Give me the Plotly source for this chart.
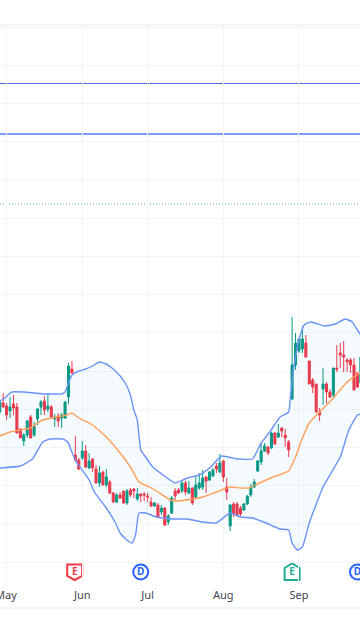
import plotly.graph_objects as go

session = list(range(106))
open_ = [188,197,194,189,196,193,171,159,165,183,165,181,193,199,191,193,181,184,182,182,203,231,145,140,142,149,132,141,131,117,128,115,118,107,98,105,109,97,110,111,101,106,106,104,98,94,95,88,92,78,87,109,110,109,117,107,112,103,112,113,123,120,124,134,128,139,113,74,96,96,92,90,96,105,113,129,138,149,153,152,167,163,172,165,158,201,235,249,251,257,239,220,216,188,211,216,208,205,232,247,245,240,240,235,227,217]
high = [200,207,197,203,205,197,172,167,180,185,178,192,200,204,206,195,186,187,187,199,237,239,164,142,159,155,147,142,135,134,129,131,120,108,107,108,109,111,112,112,112,107,108,107,103,98,97,95,93,86,104,112,112,119,119,119,113,123,127,130,124,129,132,137,146,140,122,96,98,98,94,97,105,116,121,140,156,157,154,168,168,176,173,171,160,283,267,261,274,265,239,222,216,192,232,218,211,232,255,257,259,242,242,242,227,243]
low = [186,192.5,180,182,185,167,162,154,162,162,163,175,185,185,188,183,173,173,172,181,196,227,138,130,140,132,131,128,117,113,115,113,106,97,97,101,96,95,103,102,99,98,99,98,93,93,82,85,74,75,86,100,106,107,105,106,95,101,110,110,107,119,123,127,127,118,100,69,83,83,84,89,95,103,112,128,135,148,145,151,155,162,163,153,143,200,230,247,247,242,216,207,188,179,195,197,202,201,228,232,228,228,227,210,212,217]
close = [198,193,185,193,192,167,162,165,179,162,174,191,198,190,194,183,183,179,185,198,234,227,140,131,149,133,139,132,117,127,115,123,107,98,105,102,97,109,105,109,106,104,105,103,94,97,83,92,75,84,102,104,107,117,108,112,97,115,117,122,119,128,130,131,137,123,108,95,86,85,86,96,104,113,118,139,149,154,147,167,156,167,169,162,150,235,257,261,261,243,216,213,188,185,216,208,203,232,231,245,243,238,235,210,213,243]

upper_session = [0,1.5,3.5,7,10,13,16,18,19,20,21,23,25,27,29,31,33,35,36.5,38,39,40,41,42,44.5,47.5,51,54.5,58,61,64.5,69,70,73.5,76,78.5,81.5,84,84.5,85.5,87,88.5,90.5,94.5,97.5,100.5,102.5,104,105]
upper_band = [199,202,208,208,207,206,206,206,208,217,225,229,231,234,238,236,231,224,217,205,190,180,150,145,133,125,117,122,125,132,144,141,141,141,157,168,183,188,203,233,260,275,278,274,276,281,278,270,265]
middle_session = [0,3,6,9,11,12.5,16.5,19.5,21,23,27,31,35,38,40.5,43.5,46.5,49.5,51.5,56,59,63,67,70,72.5,75.5,79.5,84,86,88,90,93,97,101,105]
middle_band = [164,168,170,172,177,180,183,185,187,182,175,163,147,133,118,113,107,100,99,101,103,108,113,112,112,117,123,129,143,162,177,188,202,218,228]
lower_session = [0,6,9.5,12.5,14.5,18.5,20,20.5,22.5,26,27.5,31,33.5,35,37,38.5,39.5,40.5,42.5,45.5,47.5,50.5,54.5,59,63,67,70,73.5,77.5,81.5,84,85,86.5,88,90,94,99,101.5,104,105]
lower_band = [132,134,141,158,161,161,157,152,137,120,108,92,78,67,60,57,65,87,87,83,82,81,81,78,77,87,83,82,77,71,70,57,50,53,77,113,143,170,185,186]

tick_sessions = [2,24,43,65,87]
tick_labels = ["","Jun","Jul","Aug","Sep"]
level_purple = 516.5
level_blue = 466
level_dotted = 396
earn_miss = [21.8]
earn_beat = [85]
dividends = [41,104]
badge_level = [28]

GREEN = "#089981"
RED = "#F23645"
BLUE = "#2962FF"
BAND = "#6a93f8"
GRID = "#f3f4f6"
TEXT = "#3f4450"

fig = go.Figure()
fig.add_trace(go.Scatter(
    x=upper_session + lower_session[::-1], y=upper_band + lower_band[::-1],
    mode="none", fill="toself", fillcolor="rgba(33,150,243,0.05)", hoverinfo="skip"))
fig.add_trace(go.Scatter(x=upper_session, y=upper_band, mode="lines",
                         line=dict(color=BAND, width=1.4, shape="spline", smoothing=0.4), hoverinfo="skip"))
fig.add_trace(go.Scatter(x=lower_session, y=lower_band, mode="lines",
                         line=dict(color=BAND, width=1.4, shape="spline", smoothing=0.4), hoverinfo="skip"))
fig.add_trace(go.Scatter(x=middle_session, y=middle_band, mode="lines",
                         line=dict(color="#FF9F5A", width=1.4, shape="spline", smoothing=0.4), hoverinfo="skip"))
fig.add_trace(go.Candlestick(
    x=session, open=open_, high=high, low=low, close=close,
    whiskerwidth=0,
    increasing=dict(line=dict(color=GREEN, width=1), fillcolor=GREEN),
    decreasing=dict(line=dict(color=RED, width=1), fillcolor=RED)))

# event badges
fig.add_trace(go.Scatter(x=dividends, y=badge_level * 2, mode="markers+text", text=["D", "D"],
                         textposition="middle center",
                         textfont=dict(family="Noto Sans", size=10, color=BLUE, weight="bold"),
                         marker=dict(size=15, color="white", line=dict(color=BLUE, width=2)),
                         hoverinfo="skip"))
fig.add_trace(go.Scatter(x=earn_miss, y=badge_level, mode="text", text=["E"],
                         textposition="middle center",
                         textfont=dict(family="Noto Sans", size=10, color=RED, weight="bold"), hoverinfo="skip"))
fig.add_trace(go.Scatter(x=earn_beat, y=badge_level, mode="text", text=["E"],
                         textposition="middle center",
                         textfont=dict(family="Noto Sans", size=10, color="#22AB94", weight="bold"), hoverinfo="skip"))

shapes = [
    dict(type="line", xref="paper", x0=0, x1=1, yref="y", y0=level_purple, y1=level_purple,
         line=dict(color="#5B6CE8", width=1), layer="below"),
    dict(type="line", xref="paper", x0=0, x1=1, yref="y", y0=level_blue, y1=level_blue,
         line=dict(color="#4F7CF5", width=1.5), layer="below"),
    dict(type="line", xref="paper", x0=0, x1=1, yref="y", y0=level_dotted, y1=level_dotted,
         line=dict(color="#4DB8A5", width=1, dash="1px,2px"), layer="below"),
    dict(type="line", xref="paper", x0=0, x1=1, yref="paper", y0=1, y1=1,
         line=dict(color=GRID, width=2), layer="below"),
    dict(type="line", xref="paper", x0=0, x1=1, yref="paper", y0=-0.045, y1=-0.045,
         line=dict(color=GRID, width=2), layer="below"),
    dict(type="path", xref="x", yref="y", xsizemode="pixel", ysizemode="pixel",
         xanchor=earn_miss[0], yanchor=badge_level[0],
         path="M -7.5 7.5 L 7.5 7.5 L 7.5 -4 L 0 -8 L -7.5 -4 Z",
         fillcolor="white", line=dict(color=RED, width=2), layer="below"),
    dict(type="path", xref="x", yref="y", xsizemode="pixel", ysizemode="pixel",
         xanchor=earn_beat[0], yanchor=badge_level[0],
         path="M -7.5 -8 L 7.5 -8 L 7.5 4 L 0 8.5 L -7.5 4 Z",
         fillcolor="white", line=dict(color="#22AB94", width=2), layer="below"),
]

label_font = dict(family="Noto Sans", size=11, color=TEXT)
fig.update_layout(
    width=360, height=640, autosize=False,
    margin=dict(l=0, r=0, t=25, b=57),
    paper_bgcolor="white", plot_bgcolor="white",
    showlegend=False, boxgap=0.15,
    shapes=shapes,
    annotations=[
        dict(text="May", xref="paper", yref="paper", x=6/360, y=-0.0215, showarrow=False,
             xanchor="center", yanchor="middle", font=label_font),
        dict(text="Oct", xref="paper", yref="paper", x=1.0, y=-0.0215, showarrow=False,
             xshift=-2, xanchor="left", yanchor="middle", font=label_font),
    ],
    xaxis=dict(range=[0.087, 104.74], tickmode="array", tickvals=tick_sessions, ticktext=tick_labels,
               showgrid=True, gridcolor=GRID, gridwidth=1, zeroline=False, showline=False,
               ticks="", ticklen=0, ticklabelstandoff=4, rangeslider=dict(visible=False), fixedrange=True,
               tickfont=label_font),
    yaxis=dict(range=[17, 575], tick0=38, dtick=38.2, tickmode="linear", showticklabels=False,
               showgrid=True, gridcolor=GRID, gridwidth=1, zeroline=False, showline=False,
               ticks="", fixedrange=True),
)

fig.write_html("out.html", config=dict(displayModeBar=False, responsive=False),
               post_script="document.body.style.margin='0';document.body.style.overflow='hidden';")
